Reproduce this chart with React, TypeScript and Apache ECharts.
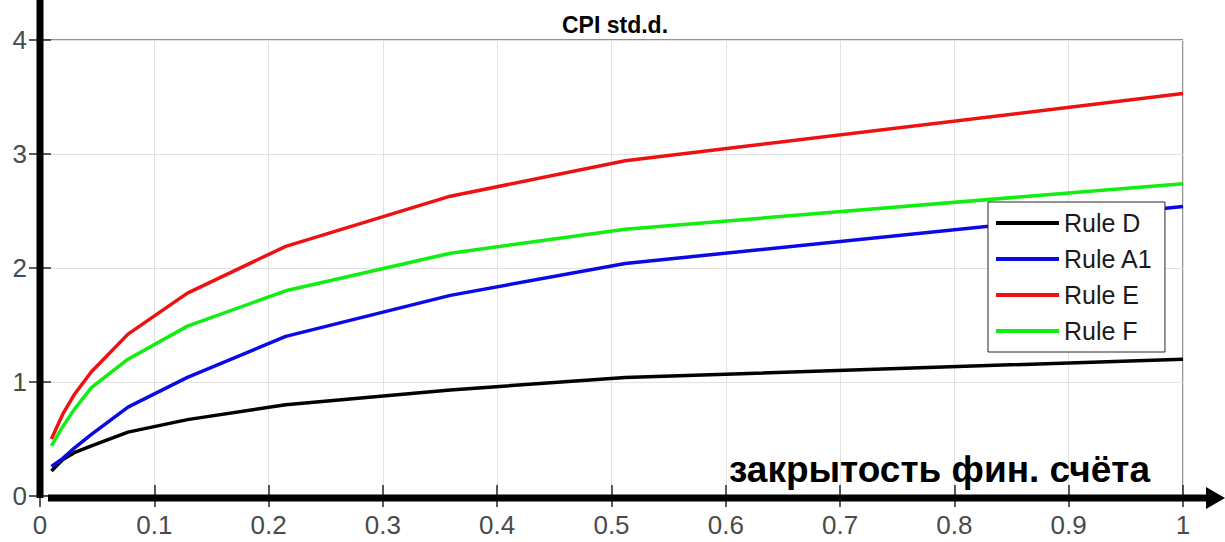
import React, { useEffect, useRef } from "react";
import * as echarts from "echarts";

const xs = [0.01, 0.02, 0.03, 0.045, 0.077, 0.129, 0.215, 0.359, 0.512, 1];
const ruleD = [0.22, 0.32, 0.38, 0.44, 0.56, 0.67, 0.8, 0.93, 1.04, 1.2];
const ruleA1 = [0.26, 0.33, 0.42, 0.54, 0.78, 1.04, 1.4, 1.76, 2.04, 2.54];
const ruleE = [0.5, 0.72, 0.89, 1.09, 1.42, 1.78, 2.19, 2.63, 2.94, 3.53];
const ruleF = [0.44, 0.61, 0.76, 0.95, 1.2, 1.49, 1.8, 2.13, 2.34, 2.74];
const seriesNames = ["Rule D", "Rule A1", "Rule E", "Rule F"];
const seriesColors = ["#000000", "#0a0ae6", "#ee1111", "#11ee11"];
const titleText = "CPI std.d.";
const xLabelText = "закрытость фин. счёта";

const FONT = "'Liberation Sans', Arial, Helvetica, sans-serif";

export default function App() {
  const ref = useRef<HTMLDivElement>(null);
  useEffect(() => {
    if (!ref.current) return;
    const chart = echarts.init(ref.current, undefined, { renderer: "svg" });
    const all = [ruleD, ruleA1, ruleE, ruleF];
    const tickColor = "#262626";
    const labelStyle = { fontFamily: FONT, fontSize: 26, lineHeight: 26, color: "#4a4a4a" };
    const splitLine = { show: true, lineStyle: { color: "#e2e2e2", width: 1 } };
    const tick = { show: true, inside: true, length: 11, lineStyle: { color: tickColor, width: 1.5 } };
    chart.setOption({
      animation: false,
      backgroundColor: "#ffffff",
      title: {
        text: titleText,
        left: 610,
        top: 8,
        textAlign: "center",
        textStyle: { fontFamily: FONT, fontSize: 23, fontWeight: "bold", color: "#000" },
      },
      grid: {
        left: 40,
        right: 42,
        top: 40,
        bottom: 46,
        show: true,
        borderColor: tickColor,
        borderWidth: 1,
        backgroundColor: "transparent",
      },
      legend: {
        orient: "vertical",
        left: 988,
        top: 202,
        data: seriesNames,
        icon: "rect",
        backgroundColor: "#ffffff",
        borderColor: "#262626",
        borderWidth: 1,
        padding: [8, 12, 8, 8],
        itemWidth: 63,
        itemHeight: 4,
        itemGap: 10,
        textStyle: { fontFamily: FONT, fontSize: 25, color: "#1a1a1a", lineHeight: 26 },
      },
      xAxis: [
        {
          type: "value",
          min: 0,
          max: 1,
          interval: 0.1,
          position: "bottom",
          axisLine: { show: false },
          axisTick: tick,
          axisLabel: { ...labelStyle, margin: 16, formatter: (v: number) => String(Math.round(v * 10) / 10) },
          splitLine,
        },
        {
          type: "value",
          min: 0,
          max: 1,
          interval: 0.1,
          position: "top",
          axisLine: { show: false },
          axisTick: tick,
          axisLabel: { show: false },
          splitLine: { show: false },
        },
      ],
      yAxis: [
        {
          type: "value",
          min: 0,
          max: 4,
          interval: 1,
          position: "left",
          axisLine: { show: false },
          axisTick: tick,
          axisLabel: { ...labelStyle, margin: 13 },
          splitLine,
        },
        {
          type: "value",
          min: 0,
          max: 4,
          interval: 1,
          position: "right",
          axisLine: { show: false },
          axisTick: tick,
          axisLabel: { show: false },
          splitLine: { show: false },
        },
      ],
      series: seriesNames.map((name, i) => ({
        name,
        type: "line",
        xAxisIndex: 0,
        yAxisIndex: 0,
        data: xs.map((x, j) => [x, all[i][j]]),
        symbol: "none",
        showSymbol: false,
        lineStyle: { color: seriesColors[i], width: 3.5 },
        itemStyle: { color: seriesColors[i] },
        z: 3,
      })),
      graphic: [
        {
          type: "line",
          z: 10,
          shape: { x1: 40, y1: 0, x2: 40, y2: 498 },
          style: { stroke: "#000", lineWidth: 7 },
        },
        {
          type: "line",
          z: 10,
          shape: { x1: 48, y1: 498, x2: 1212, y2: 498 },
          style: { stroke: "#000", lineWidth: 7 },
        },
        {
          type: "polygon",
          z: 10,
          shape: { points: [[1206, 487], [1225, 498], [1206, 509]] },
          style: { fill: "#000" },
        },
        {
          type: "text",
          z: 10,
          x: 1150,
          y: 469,
          style: {
            text: xLabelText,
            fontFamily: FONT,
            fontSize: 37,
            fontWeight: "bold",
            fill: "#000",
            align: "right",
            verticalAlign: "middle",
          },
        },
      ],
    });
    return () => chart.dispose();
  }, []);
  return (
    <div
      ref={ref}
      style={{ position: "fixed", left: 0, top: 0, width: 1225, height: 542 }}
    />
  );
}
